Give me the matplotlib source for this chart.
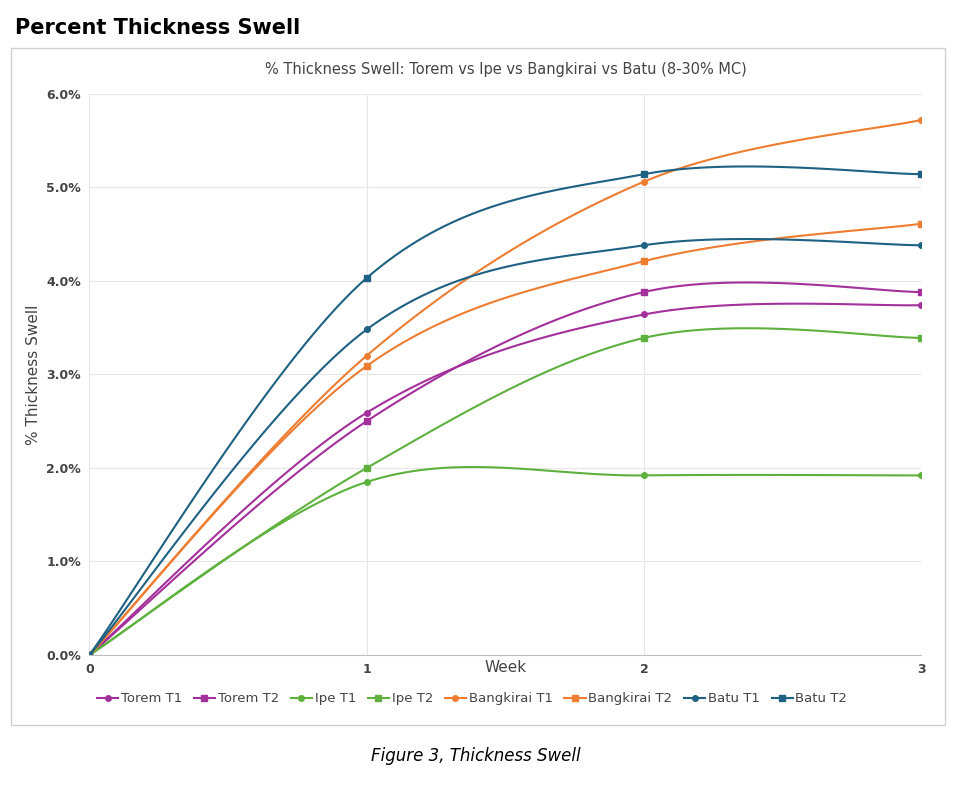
import numpy as np
import matplotlib.pyplot as plt
from matplotlib.patches import Rectangle
from matplotlib.ticker import PercentFormatter

weeks = [0, 1, 2, 3]
series_names = ["Torem T1", "Torem T2", "Ipe T1", "Ipe T2",
                "Bangkirai T1", "Bangkirai T2", "Batu T1", "Batu T2"]
torem_t1 = [0.0, 2.59, 3.64, 3.74]
torem_t2 = [0.0, 2.50, 3.88, 3.88]
ipe_t1 = [0.0, 1.85, 1.92, 1.92]
ipe_t2 = [0.0, 2.00, 3.39, 3.39]
bangkirai_t1 = [0.0, 3.20, 5.06, 5.72]
bangkirai_t2 = [0.0, 3.09, 4.21, 4.61]
batu_t1 = [0.0, 3.48, 4.38, 4.38]
batu_t2 = [0.0, 4.03, 5.14, 5.14]

values = [torem_t1, torem_t2, ipe_t1, ipe_t2,
          bangkirai_t1, bangkirai_t2, batu_t1, batu_t2]
colors = ["#a3309b", "#a3309b", "#5db13c", "#5db13c",
          "#ee7d31", "#ee7d31", "#1f6182", "#1f6182"]
markers = ["o", "s"] * 4


def smooth(x, y, n=40):
    # Excel-like smoothed line: cubic Bezier with Catmull-Rom control points
    x = np.asarray(x, float)
    y = np.asarray(y, float)
    px = np.concatenate([[x[0]], x, [x[-1]]])
    py = np.concatenate([[y[0]], y, [y[-1]]])
    xs, ys = [], []
    t = np.linspace(0, 1, n)
    for i in range(1, len(x)):
        p0 = np.array([px[i], py[i]])
        p3 = np.array([px[i + 1], py[i + 1]])
        c1 = p0 + (np.array([px[i + 1], py[i + 1]]) - np.array([px[i - 1], py[i - 1]])) / 6
        c2 = p3 - (np.array([px[i + 2], py[i + 2]]) - np.array([px[i], py[i]])) / 6
        b = ((1 - t) ** 3)[:, None] * p0 + (3 * (1 - t) ** 2 * t)[:, None] * c1 \
            + (3 * (1 - t) * t ** 2)[:, None] * c2 + (t ** 3)[:, None] * p3
        xs.extend(b[:, 0])
        ys.extend(b[:, 1])
    return xs, ys


fig = plt.figure(figsize=(9.71, 7.94), dpi=100)
fig.text(0.015, 0.965, "Percent Thickness Swell", fontsize=15, fontweight="bold",
         va="center", ha="left")
fig.patches.append(Rectangle((0.011, 0.087), 0.962, 0.852, transform=fig.transFigure,
                             fill=False, edgecolor="#d0d0d0", linewidth=1))
fig.text(0.49, 0.048, "Figure 3, Thickness Swell", fontsize=12, style="italic",
         ha="center", va="center")

ax = fig.add_axes([0.092, 0.175, 0.857, 0.707])
for name, vals, c, m in zip(series_names, values, colors, markers):
    sx, sy = smooth(weeks, vals)
    ax.plot(sx, sy, color=c, linewidth=1.5)
    ax.plot(weeks, vals, linestyle="none", marker=m, color=c, markersize=4)
    ax.plot([], [], color=c, marker=m, markersize=4, linewidth=1.5, label=name)

ax.set_xlim(0, 3)
ax.set_ylim(0, 6)
ax.set_xticks(weeks)
ax.set_yticks(np.arange(0, 6.1, 1))
ax.yaxis.set_major_formatter(PercentFormatter(decimals=1))
ax.grid(True, color="#e6e6e6", linewidth=0.8)
for s in ["top", "right", "left"]:
    ax.spines[s].set_visible(False)
ax.spines["bottom"].set_color("#bfbfbf")
ax.tick_params(length=0, labelsize=9, colors="#444444", pad=6)
for lbl in ax.get_xticklabels() + ax.get_yticklabels():
    lbl.set_fontweight("bold")
ax.set_title("% Thickness Swell: Torem vs Ipe vs Bangkirai vs Batu (8-30% MC)",
             fontsize=10.5, color="#444444", pad=14)
ax.set_xlabel("Week", fontsize=11, color="#444444", labelpad=-12)
ax.set_ylabel("% Thickness Swell", fontsize=11, color="#444444")
ax.legend(loc="upper center", bbox_to_anchor=(0.46, -0.045), ncol=8, frameon=False,
          fontsize=9.5, handlelength=1.6, handletextpad=0.2, columnspacing=0.9,
          labelcolor="#444444")

fig.savefig("out.png", dpi=100)
